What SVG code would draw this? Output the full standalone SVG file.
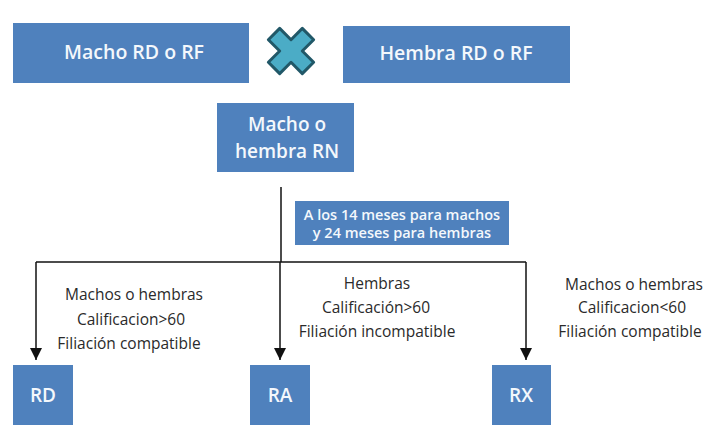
<svg xmlns="http://www.w3.org/2000/svg" width="704" height="425" viewBox="0 0 704 425">
<style>
.box{fill:#4f81bd;}
.bt{font-family:"Open Sans","Liberation Sans",sans-serif;font-weight:600;fill:#f4f8fc;text-anchor:middle;}
.lt{font-family:"Open Sans","Liberation Sans",sans-serif;font-size:15.5px;fill:#2a2a2a;text-anchor:middle;}
.conn{stroke:#111;stroke-width:1.5;fill:none;}
</style>
<defs>
<marker id="ah" viewBox="0 0 12 12" refX="12" refY="6" markerWidth="12" markerHeight="12" markerUnits="userSpaceOnUse" orient="auto">
<path d="M0,0 L12,6 L0,12 Z" fill="#111"/>
</marker>
</defs>
<rect width="704" height="425" fill="#ffffff"/>
<g id="macho">
<rect class="box" x="13" y="23" width="236" height="60"/>
<text class="bt" x="134" y="59" font-size="19.5">Macho RD o RF</text>
</g>
<g id="cross">
<polygon transform="translate(291,51) rotate(45)" points="-8,-24 8,-24 8,-8 24,-8 24,8 8,8 8,24 -8,24 -8,8 -24,8 -24,-8 -8,-8" fill="#4bacc6" stroke="#215868" stroke-width="3" stroke-linejoin="round"/>
</g>
<g id="hembra">
<rect class="box" x="343" y="26" width="227" height="57"/>
<text class="bt" x="456" y="60" font-size="19.5">Hembra RD o RF</text>
</g>
<g id="rn">
<rect class="box" x="217" y="103" width="137" height="69"/>
<text class="bt" x="287" y="131" font-size="19">Macho o</text>
<text class="bt" x="287" y="158" font-size="19">hembra RN</text>
</g>
<g id="edad">
<rect class="box" x="295" y="201" width="214" height="44"/>
<text class="bt" x="402" y="220" font-size="14.5">A los 14 meses para machos</text>
<text class="bt" x="402" y="238" font-size="14.5">y 24 meses para hembras</text>
</g>
<g id="connectors">
<line class="conn" x1="281" y1="187" x2="281" y2="262"/>
<line class="conn" x1="36" y1="262" x2="526" y2="262"/>
<line class="conn" x1="36" y1="262" x2="36" y2="360" marker-end="url(#ah)"/>
<line class="conn" x1="280" y1="262" x2="280" y2="360" marker-end="url(#ah)"/>
<line class="conn" x1="526" y1="262" x2="526" y2="360" marker-end="url(#ah)"/>
</g>
<g id="lbl-rd">
<text class="lt" x="134" y="300">Machos o hembras</text>
<text class="lt" x="131" y="325">Calificacion&gt;60</text>
<text class="lt" x="129" y="349">Filiación compatible</text>
</g>
<g id="lbl-ra">
<text class="lt" x="377" y="289">Hembras</text>
<text class="lt" x="376" y="313">Calificación&gt;60</text>
<text class="lt" x="377" y="337">Filiación incompatible</text>
</g>
<g id="lbl-rx">
<text class="lt" x="634" y="290">Machos o hembras</text>
<text class="lt" x="632" y="313">Calificacion&lt;60</text>
<text class="lt" x="630" y="337">Filiación compatible</text>
</g>
<g id="rd">
<rect class="box" x="13" y="365" width="60" height="62"/>
<text class="bt" x="43" y="402" font-size="19">RD</text>
</g>
<g id="ra">
<rect class="box" x="250" y="365" width="60" height="62"/>
<text class="bt" x="280" y="402" font-size="19">RA</text>
</g>
<g id="rx">
<rect class="box" x="492" y="365" width="59" height="62"/>
<text class="bt" x="521" y="402" font-size="19">RX</text>
</g>
</svg>
